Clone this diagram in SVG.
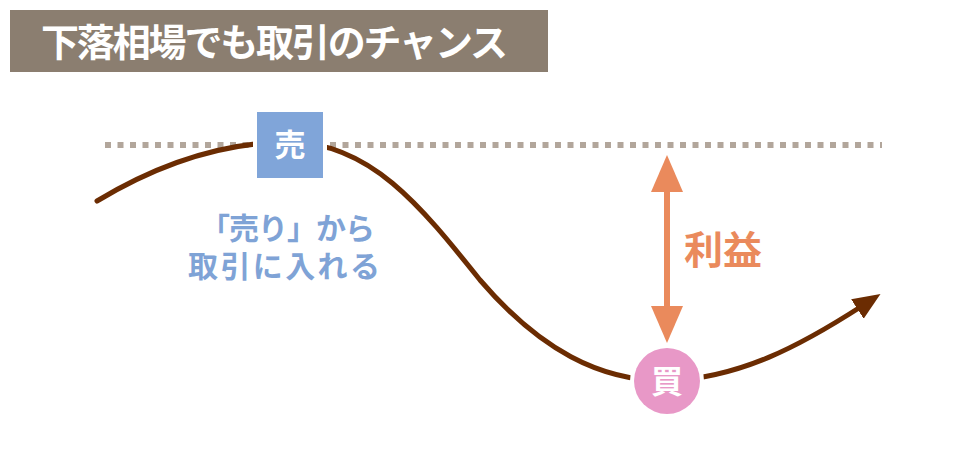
<svg xmlns="http://www.w3.org/2000/svg" width="980" height="450" viewBox="0 0 980 450">
<defs>
<style>
.jp{font-family:"Noto Sans CJK JP","Noto Sans CJK SC",sans-serif;font-weight:700}
.curve{fill:none;stroke:#6b2c02;stroke-width:5;stroke-linecap:round}
.profit{fill:#ea8a5c}
</style>
<marker id="ah" viewBox="0 0 10 10" refX="2" refY="5" markerWidth="5.5" markerHeight="5.5" markerUnits="strokeWidth" orient="auto">
<path d="M0,0.8 L10,5 L0,9.2 Z" fill="#6b2c02"/>
</marker>
</defs>
<rect width="980" height="450" fill="#ffffff"/>
<g id="title">
<rect x="10" y="10" width="538" height="62" fill="#8b7e70"/>
<text class="jp" x="41" y="56" font-size="38" fill="#ffffff" textLength="467">下落相場でも取引のチャンス</text>
</g>
<g id="resistance">
<line x1="105" y1="145" x2="882" y2="145" stroke="#b2a69b" stroke-width="6" stroke-dasharray="6 6.5"/>
</g>
<g id="connectors">
<path class="curve" d="M97,201 C170,157 235,142 290,142 C370,143 420,205 480,280 C540,350 600,381 667,381"/>
<path class="curve" d="M667,381 C740,378 800,346 862,306" marker-end="url(#ah)"/>
<g id="profit-arrow">
<rect x="664" y="185" width="6" height="125" class="profit"/>
<polygon points="667,155 683,192 651,192" class="profit"/>
<polygon points="667,343 683,306 651,306" class="profit"/>
</g>
</g>
<g id="sell">
<rect x="253" y="108" width="74" height="74" fill="#ffffff"/>
<rect x="257" y="112" width="66" height="66" fill="#80a5d9"/>
<text class="jp" x="290" y="156" font-size="31" fill="#ffffff" text-anchor="middle">売</text>
</g>
<g id="buy">
<circle cx="667" cy="381" r="37" fill="#ffffff"/>
<circle cx="667" cy="381" r="33" fill="#e898c7"/>
<text class="jp" x="667" y="393" font-size="32" fill="#ffffff" text-anchor="middle">買</text>
</g>
<g id="sell-label">
<text class="jp" x="200" y="239" font-size="30" fill="#7fa3d6" textLength="175">「売り」から</text>
<text class="jp" x="188" y="277" font-size="30" fill="#7fa3d6" textLength="192">取引に入れる</text>
</g>
<g id="profit-label">
<text class="jp" x="684" y="264" font-size="39" fill="#ea8a5c">利益</text>
</g>
</svg>
